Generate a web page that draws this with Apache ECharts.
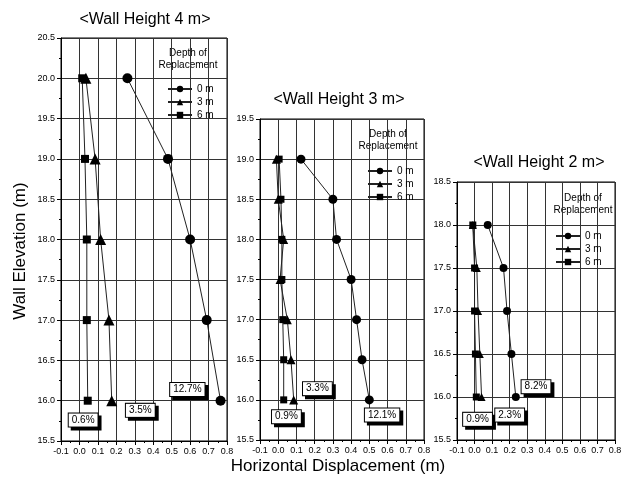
<!DOCTYPE html>
<html><head><meta charset="utf-8">
<script src="https://cdn.jsdelivr.net/npm/echarts@6/dist/echarts.min.js"></script>
<style>html,body{margin:0;padding:0;background:#fff}#c{width:632px;height:479px}</style>
</head><body><div id="c"></div>
<script>
// ---------- data ----------
const seriesNames = ['0 m', '3 m', '6 m'];
const seriesSymbols = ['circle', 'triangle', 'rect'];
const panelTitles = ['<Wall Height 4 m>', '<Wall Height 3 m>', '<Wall Height 2 m>'];
const xTicks = [-0.1, 0.8];           // x-axis range, step 0.1
const yRange4 = [15.5, 20.5];
const yRange3 = [15.5, 19.5];
const yRange2 = [15.5, 18.5];

// Wall height 4 m
const elev4 = [20, 19, 18, 17, 16];
const disp4_0 = [0.26, 0.48, 0.60, 0.69, 0.765];
const disp4_3 = [0.035, 0.085, 0.115, 0.16, 0.175];
const disp4_6 = [0.015, 0.03, 0.04, 0.04, 0.045];
// Wall height 3 m
const elev3 = [19, 18.5, 18, 17.5, 17, 16.5, 16];
const disp3_0 = [0.125, 0.30, 0.32, 0.40, 0.43, 0.46, 0.50];
const disp3_3 = [-0.01, 0.0, 0.03, 0.01, 0.05, 0.07, 0.085];
const disp3_6 = [0.005, 0.015, 0.02, 0.02, 0.025, 0.03, 0.03];
// Wall height 2 m
const elev2 = [18, 17.5, 17, 16.5, 16];
const disp2_0 = [0.075, 0.165, 0.185, 0.21, 0.235];
const disp2_3 = [-0.01, 0.013, 0.02, 0.03, 0.04];
const disp2_6 = [-0.01, 0.0, 0.0, 0.005, 0.01];

// percentage annotations (text, x, y in data units)
const pctText4 = ['0.6%', '3.5%', '12.7%'];
const pctX4 = [0.02, 0.33, 0.585];
const pctY4 = [15.76, 15.88, 16.14];
const pctText3 = ['0.9%', '3.3%', '12.1%'];
const pctX3 = [0.045, 0.215, 0.57];
const pctY3 = [15.79, 16.14, 15.81];
const pctText2 = ['0.9%', '2.3%', '8.2%'];
const pctX2 = [0.017, 0.2, 0.35];
const pctY2 = [15.74, 15.79, 16.12];

// ---------- chart ----------
const FONT = '"Liberation Sans", Arial, sans-serif';
const grids = [
  {left: 61, top: 38, width: 166, height: 403},
  {left: 260, top: 119, width: 164, height: 321},
  {left: 457, top: 182, width: 158, height: 258}
];
const yRanges = [yRange4, yRange3, yRange2];
const symSizes = [[10, 11, 8], [9, 9, 7], [8, 8, 7]];
const panels = [
  {elev: elev4, disp: [disp4_0, disp4_3, disp4_6], pt: pctText4, px: pctX4, py: pctY4},
  {elev: elev3, disp: [disp3_0, disp3_3, disp3_6], pt: pctText3, px: pctX3, py: pctY3},
  {elev: elev2, disp: [disp2_0, disp2_3, disp2_6], pt: pctText2, px: pctX2, py: pctY2}
];

const xAxes = grids.map((g, i) => ({
  type: 'value', gridIndex: i, min: xTicks[0], max: xTicks[1], interval: 0.1,
  axisLine: {show: true, onZero: false, lineStyle: {color: '#000', width: 1}},
  axisTick: {show: true, length: 4, lineStyle: {color: '#000'}},
  minorTick: {show: true, splitNumber: 2, length: 2, lineStyle: {color: '#000'}},
  axisLabel: {fontSize: 9, color: '#000', fontFamily: FONT, margin: 6, hideOverlap: false,
    formatter: v => v.toFixed(1)},
  splitLine: {show: true, lineStyle: {color: '#333', width: 1}}
}));
const yAxes = grids.map((g, i) => ({
  type: 'value', gridIndex: i, min: yRanges[i][0], max: yRanges[i][1], interval: 0.5,
  axisLine: {show: true, onZero: false, lineStyle: {color: '#000', width: 1}},
  axisTick: {show: true, length: 4, lineStyle: {color: '#000'}},
  minorTick: {show: true, splitNumber: 2, length: 2, lineStyle: {color: '#000'}},
  axisLabel: {fontSize: 9, color: '#000', fontFamily: FONT, margin: 6,
    formatter: v => v.toFixed(1)},
  splitLine: {show: true, lineStyle: {color: '#333', width: 1}}
}));

const series = [];
panels.forEach((p, i) => {
  p.disp.forEach((d, k) => {
    series.push({
      type: 'line', name: seriesNames[k], xAxisIndex: i, yAxisIndex: i,
      data: p.elev.map((e, j) => [d[j], e]),
      symbol: seriesSymbols[k], symbolSize: symSizes[i][k], showAllSymbol: true,
      itemStyle: {color: '#000'},
      lineStyle: {color: '#222', width: 1},
      animation: false, z: 3
    });
  });
  series.push({
    type: 'scatter', name: 'pct' + i, xAxisIndex: i, yAxisIndex: i, silent: true,
    symbol: 'circle', symbolSize: 0, itemStyle: {color: '#fff', opacity: 1}, z: 5,
    emphasis: {disabled: true},
    data: p.pt.map((t, j) => ({name: t, value: [p.px[j], p.py[j]]})),
    label: {
      show: true, position: 'inside', formatter: '{b}', fontSize: 10, fontFamily: FONT,
      color: '#000', opacity: 1, backgroundColor: '#ffffff', borderColor: '#000', borderWidth: 1,
      padding: [2, 3, 1, 3], shadowColor: '#000', shadowBlur: 0,
      shadowOffsetX: 3, shadowOffsetY: 3
    },
    animation: false
  });
});

const legendPos = [{left: 167, top: 84}, {left: 367, top: 166}, {left: 555, top: 231}];
const legends = legendPos.map(lp => ({
  data: seriesNames, orient: 'vertical', left: lp.left, top: lp.top, padding: 0,
  itemWidth: 24, itemHeight: 8, itemGap: 3, selectedMode: false,
  textStyle: {fontSize: 10, fontFamily: FONT, color: '#000'}
}));

function txt(x, y, text, size, rot) {
  return {type: 'text', x: x, y: y, rotation: rot || 0, silent: true,
    style: {text: text, fontSize: size, fontFamily: FONT, fill: '#000',
      align: 'center', verticalAlign: 'middle', lineHeight: size + 2}};
}
const graphics = [
  txt(145, 20, panelTitles[0], 16),
  txt(339, 100, panelTitles[1], 16),
  txt(539, 163, panelTitles[2], 16),
  txt(188, 59, 'Depth of\nReplacement', 10),
  txt(388, 140, 'Depth of\nReplacement', 10),
  txt(583, 204, 'Depth of\nReplacement', 10),
  txt(20, 251, 'Wall Elevation (m)', 17, Math.PI / 2),
  txt(338, 466, 'Horizontal Displacement (m)', 17)
];

const chart = echarts.init(document.getElementById('c'), null, {renderer: 'canvas'});
chart.setOption({
  animation: false,
  backgroundColor: '#fff',
  grid: grids.map(g => Object.assign({show: true, borderColor: '#000', borderWidth: 1,
    backgroundColor: 'transparent'}, g)),
  xAxis: xAxes,
  yAxis: yAxes,
  legend: legends,
  series: series,
  graphic: graphics
});
</script></body></html>
